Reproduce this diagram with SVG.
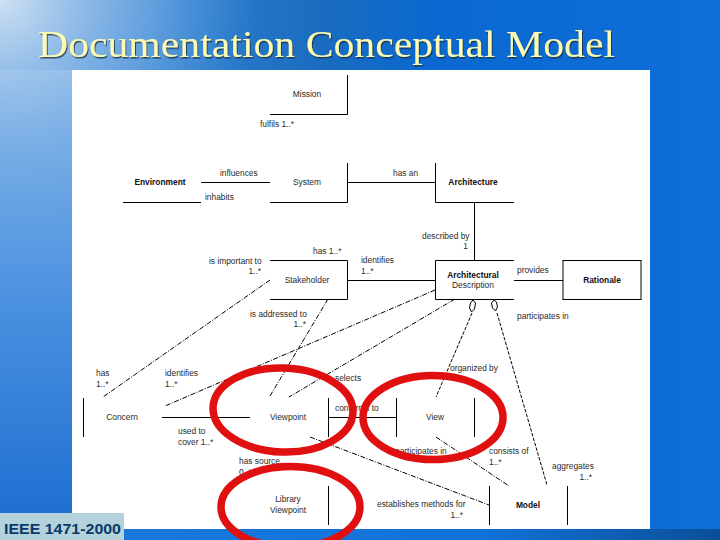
<svg xmlns="http://www.w3.org/2000/svg" width="720" height="540" viewBox="0 0 720 540">
<style>
.l{fill:none;stroke:#000;stroke-width:1}
.dd{stroke-dasharray:5 1.5 1 1.5}
.d{stroke-dasharray:3.5 1.5}
text{font-family:"Liberation Sans",Arial,sans-serif;font-size:8.4px;fill:#2a2a2a}
.b{font-weight:bold;fill:#111}
.m{text-anchor:middle}
.e{fill:none;stroke:#e01010;stroke-width:7.5}
</style>
<defs>
<linearGradient id="bg" x1="0" y1="0" x2="1" y2="0"><stop offset="0" stop-color="#5a9fe0"/><stop offset="0.1" stop-color="#3d8ad8"/><stop offset="0.45" stop-color="#1a6cc0"/><stop offset="0.6" stop-color="#0a68d0"/><stop offset="1" stop-color="#0f6ed8"/></linearGradient>
<radialGradient id="tl" gradientUnits="userSpaceOnUse" cx="0" cy="0" r="260" gradientTransform="scale(1 .9)"><stop offset="0" stop-color="#cfe0f2" stop-opacity="1"/><stop offset="0.6" stop-color="#7fb2e6" stop-opacity=".6"/><stop offset="1" stop-color="#5a9fe0" stop-opacity="0"/></radialGradient>
<linearGradient id="left" x1="0" y1="0" x2="0" y2="1"><stop offset="0" stop-color="#8ab8e8"/><stop offset="0.5" stop-color="#4a90e0"/><stop offset="1" stop-color="#1a6cd0"/></linearGradient>
<linearGradient id="bot" x1="0" y1="0" x2="1" y2="0"><stop offset="0" stop-color="#1a78dc"/><stop offset="0.6" stop-color="#1272d8"/><stop offset="1" stop-color="#0a4f98"/></linearGradient>
<filter id="sh" x="-5%" y="-20%" width="110%" height="140%"><feDropShadow dx="1" dy="1.5" stdDeviation="0.6" flood-color="#1a2a3a" flood-opacity=".8"/></filter>
</defs>
<rect width="720" height="540" fill="url(#bg)"/>
<rect x="0" y="70" width="72" height="470" fill="url(#left)"/>
<rect width="720" height="540" fill="url(#tl)"/>
<rect x="124" y="529" width="596" height="11" fill="url(#bot)"/>
<rect x="72" y="70" width="578" height="459" fill="#fff"/>
<text x="38" y="57" textLength="577" lengthAdjust="spacingAndGlyphs" filter="url(#sh)" style="font-family:'Liberation Serif',serif;font-size:37px;fill:#fbfbb4">Documentation Conceptual Model</text>

<g id="connectors">
<path class="l" d="M201 182.500H270M347 182.500H435M474.500 202V260M347 280.500H435M514 280.500H563M162 417.500H250M328 417.500H396"/>
<path class="l dd" d="M270 280L103 397M435 290L165 406M455 299L289 397"/>
<path class="l dd" d="M328 299L270 396"/>
<path class="l d" d="M472 313L436 397M497 313L547 485"/>
<path class="l dd" d="M436 437L509 486M310 437L489 505"/>
<path class="l" d="M473 300l2.500 3-1 6-3 3-2-4 1-5zM494 300l-2.500 3 1 5 3 3 2-4-1-5z" fill="#fff"/>
</g>

<g id="mission"><path class="l" d="M270 114.500H347.500V75"/><text class="m" x="307" y="97">Mission</text></g>
<g id="environment"><path class="l" d="M123 202.500H201"/><text class="m b" x="160" y="185">Environment</text></g>
<g id="system"><path class="l" d="M270 202.500H347.500V163"/><text class="m" x="307" y="185">System</text></g>
<g id="architecture"><path class="l" d="M514 202.500H435.500V163"/><text class="m b" x="473" y="185">Architecture</text></g>
<g id="stakeholder"><path class="l" d="M270 260.500H347.500V299.500H270"/><text class="m" x="307" y="283">Stakeholder</text></g>
<g id="description"><path class="l" d="M514 260.500H435.500V299.500H514"/><text class="m b" x="473" y="278">Architectural</text><text class="m" x="473" y="288">Description</text></g>
<g id="rationale"><rect class="l" x="563" y="260.500" width="78" height="39"/><text class="m b" x="602" y="283">Rationale</text></g>
<g id="concern"><path class="l" d="M83.500 398V437"/><text class="m" x="122" y="420">Concern</text></g>
<g id="viewpoint"><path class="l" d="M328.500 398V437"/><text class="m" x="288" y="420">Viewpoint</text></g>
<g id="view"><path class="l" d="M396.500 398V437M474.500 398V437"/><text class="m" x="435" y="420">View</text></g>
<g id="library"><path class="l" d="M328.500 486V525"/><text class="m" x="288" y="502">Library</text><text class="m" x="288" y="513">Viewpoint</text></g>
<g id="model"><path class="l" d="M489.500 486V525M567.500 486V525"/><text class="m b" x="528" y="508">Model</text></g>

<g id="labels">
<text x="260" y="127">fulfils 1..*</text>
<text x="220" y="176">influences</text>
<text x="205" y="200">inhabits</text>
<text x="393" y="176">has an</text>
<text x="313" y="254">has 1..*</text>
<text x="209" y="264">is important to</text>
<text x="261" y="274" text-anchor="end">1..*</text>
<text x="361" y="263">identifies</text>
<text x="361" y="274">1..*</text>
<text x="422" y="239">described by</text>
<text x="468" y="249" text-anchor="end">1</text>
<text x="517" y="273">provides</text>
<text x="517" y="319">participates in</text>
<text x="250" y="317">is addressed to</text>
<text x="306" y="327" text-anchor="end">1..*</text>
<text x="96" y="376">has</text>
<text x="96" y="387">1..*</text>
<text x="165" y="376">identifies</text>
<text x="165" y="387">1..*</text>
<text x="450" y="371">organized by</text>
<text x="335" y="381">selects</text>
<text x="335" y="411">conforms to</text>
<text x="178" y="434">used to</text>
<text x="178" y="445">cover 1..*</text>
<text x="239" y="464">has source</text>
<text x="239" y="475">0..*</text>
<text x="395" y="454">participates in</text>
<text x="489" y="454">consists of</text>
<text x="489" y="465">1..*</text>
<text x="552" y="469">aggregates</text>
<text x="592" y="480" text-anchor="end">1..*</text>
<text x="377" y="507">establishes methods for</text>
<text x="463" y="518" text-anchor="end">1..*</text>
</g>

<ellipse class="e" cx="283" cy="410" rx="70" ry="42" transform="rotate(2 283 410)"/>
<ellipse class="e" cx="433" cy="417.500" rx="70" ry="42"/>
<ellipse class="e" cx="290.500" cy="507" rx="69.500" ry="40.500"/>

<rect x="0" y="513" width="124" height="27" fill="#b4d2dc"/>
<text x="4" y="533.500" textLength="117" lengthAdjust="spacingAndGlyphs" style="font-size:15px;font-weight:bold;fill:#0a3a68">IEEE 1471-2000</text>
</svg>
